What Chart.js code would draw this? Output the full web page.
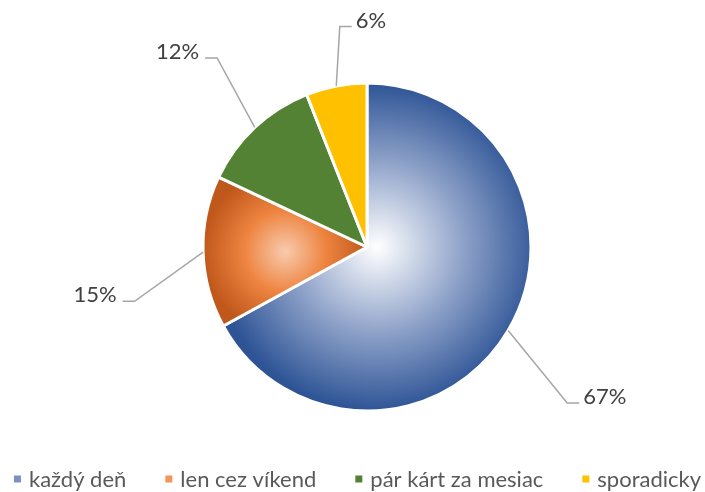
<!DOCTYPE html>
<html><head><meta charset="utf-8">
<script src="https://cdn.jsdelivr.net/npm/chart.js@4.4.1/dist/chart.umd.min.js"></script>
<style>html,body{margin:0;padding:0;background:#fff;}</style>
</head><body>
<canvas id="c" width="705" height="492"></canvas>
<script>
const categories = ['každý deň', 'len cez víkend', 'pár kárt za mesiac', 'sporadicky'];
const shares = [67, 15, 12, 6];
const valueLabels = ['67%', '15%', '12%', '6%'];

const baseColors = ['#2F5597', '#C55A11', '#548235', '#FFC000'];
const legendColors = ['#7C91C3', '#F0985C', '#548235', '#FFC000'];
const gradientStops = [
  [[0, '#FFFFFF'], [0.5, '#93A6CB'], [1, '#2E5496']],
  [[0, '#F8CBAE'], [0.5, '#EE8440'], [1, '#C0581C']],
  null,
  null
];
const PIE_RADIUS = 164;
// label leader-line elbows, in units of pie radius from pie centre; side: 1 = right, -1 = left
const labelElbows = [[1.221, 0.951, 1], [-1.417, 0.331, -1], [-0.914, -1.153, -1], [-0.166, -1.344, 1]];

function sliceFill(ctx) {
  const chart = ctx.chart, area = chart.chartArea, i = ctx.dataIndex;
  const stops = gradientStops[i];
  if (!area || !stops || i === undefined) return baseColors[i] || baseColors[0];
  const cx = (area.left + area.right) / 2, cy = (area.top + area.bottom) / 2, r = PIE_RADIUS;
  const data = ctx.dataset.data;
  const total = data.reduce((a, b) => a + b, 0);
  let cum = 0;
  for (let k = 0; k < i; k++) cum += data[k];
  const a0 = -Math.PI / 2 + 2 * Math.PI * cum / total;
  const a1 = a0 + 2 * Math.PI * data[i] / total;
  const xs = [cx, cx + r * Math.cos(a0), cx + r * Math.cos(a1)];
  const ys = [cy, cy + r * Math.sin(a0), cy + r * Math.sin(a1)];
  for (let q = -4; q <= 8; q++) {
    const a = q * Math.PI / 2;
    if (a > a0 && a < a1) { xs.push(cx + r * Math.cos(a)); ys.push(cy + r * Math.sin(a)); }
  }
  const minX = Math.min(...xs), maxX = Math.max(...xs), minY = Math.min(...ys), maxY = Math.max(...ys);
  const bx = (minX + maxX) / 2, by = (minY + maxY) / 2;
  const gr = Math.max(maxX - minX, maxY - minY) / 2;
  const g = chart.ctx.createRadialGradient(bx, by, 0, bx, by, gr);
  stops.forEach(s => g.addColorStop(s[0], s[1]));
  return g;
}

const leaderLabels = {
  id: 'leaderLabels',
  afterDatasetsDraw(chart) {
    const c = chart.ctx;
    const meta = chart.getDatasetMeta(0);
    c.save();
    meta.data.forEach((arc, i) => {
      const p = arc.getProps(['x', 'y', 'startAngle', 'endAngle', 'outerRadius'], true);
      const mid = (p.startAngle + p.endAngle) / 2;
      const r = p.outerRadius;
      const sx = p.x + r * Math.cos(mid), sy = p.y + r * Math.sin(mid);
      const e = labelElbows[i];
      const ex = p.x + e[0] * r, ey = p.y + e[1] * r;
      const tx = ex + e[2] * 12;
      c.strokeStyle = '#A6A6A6';
      c.lineWidth = 1.5;
      c.beginPath();
      c.moveTo(sx, sy); c.lineTo(ex, ey); c.lineTo(tx, ey);
      c.stroke();
      c.fillStyle = '#404040';
      c.font = '22px Lato';
      c.textBaseline = 'alphabetic';
      c.textAlign = e[2] > 0 ? 'left' : 'right';
      c.fillText(valueLabels[i], tx + e[2] * (e[2] > 0 ? 4 : 6), ey + 1);
    });
    c.restore();
  }
};

const bottomLegend = {
  id: 'bottomLegend',
  afterDraw(chart) {
    const c = chart.ctx;
    const labels = chart.data.labels;
    const box = 7, boxGap = 8, itemGap = 39, y = 479;
    c.save();
    c.font = '22px Lato';
    const widths = labels.map(t => box + boxGap + c.measureText(t).width);
    const total = widths.reduce((a, b) => a + b, 0) + itemGap * (labels.length - 1);
    let x = chart.width / 2 + 5 - total / 2;
    c.textBaseline = 'middle';
    c.textAlign = 'left';
    labels.forEach((t, i) => {
      c.fillStyle = legendColors[i];
      c.fillRect(x, y - box / 2, box, box);
      c.fillStyle = '#595959';
      c.fillText(t, x + box + boxGap, y + 1);
      x += widths[i] + itemGap;
    });
    c.restore();
  }
};

new Chart(document.getElementById('c'), {
  type: 'pie',
  data: {
    labels: categories,
    datasets: [{
      data: shares,
      backgroundColor: sliceFill,
      borderColor: '#FFFFFF',
      borderWidth: 3,
      radius: PIE_RADIUS
    }]
  },
  options: {
    responsive: false,
    animation: false,
    layout: { padding: { top: 2, left: 29, right: 0, bottom: 0 } },
    plugins: {
      tooltip: { enabled: false },
      legend: { display: false }
    }
  },
  plugins: [leaderLabels, bottomLegend]
});
</script>
</body></html>
